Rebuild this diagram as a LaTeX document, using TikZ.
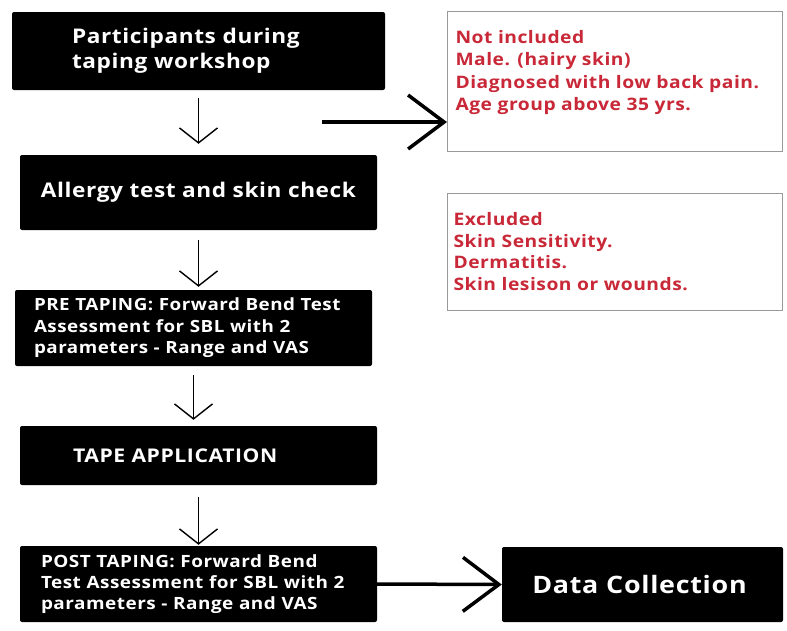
\documentclass[tikz,border=0pt]{standalone}
\usepackage{fontspec}
\setmainfont{Open Sans}
\newfontfamily\boxfont[FakeStretch=1.12,LetterSpace=3]{Open Sans}
\usetikzlibrary{arrows.meta}
\definecolor{exred}{RGB}{200,40,55}
\tikzset{
  blackbox/.style={rectangle, rounded corners=2pt, fill=black, text=white},
  notebox/.style={rectangle, draw=black!40, line width=1pt, anchor=north west, inner ysep=0pt, text=exred, font=\boxfont\bfseries\fontsize{17.2}{22.3}\selectfont},
  downarrow/.style={-{Straight Barb[length=15pt,width=38pt]}, line width=1.4pt},
  sidearrow/.style={-{Straight Barb[length=36pt,width=54pt]}, line width=3.5pt},
}
\begin{document}
\begin{tikzpicture}[x=1pt,y=-1pt]
    \useasboundingbox (0,0) rectangle (787,630);
    % main column
    \node[blackbox, minimum width=373pt, minimum height=78pt, text width=253pt, inner xsep=60pt, align=left, font=\boxfont\bfseries\fontsize{20.2}{25}\selectfont] (part) at (198.5,51) {Participants during\\taping workshop};
    \node[blackbox, minimum width=357pt, minimum height=75pt, font=\boxfont\bfseries\fontsize{20.2}{24}\selectfont] (allergy) at (198.5,192.5) {Allergy test and skin check};
    \node[blackbox, minimum width=357pt, minimum height=76pt, text width=319pt, inner xsep=19pt, align=left, font=\boxfont\bfseries\fontsize{16.8}{21.5}\selectfont] (pretape) at (193.5,328) {PRE TAPING: Forward Bend Test\\Assessment for SBL with 2\\parameters - Range and VAS};
    \node[blackbox, minimum width=357pt, minimum height=59pt, text width=251pt, inner xsep=53pt, align=left, font=\boxfont\bfseries\fontsize{18.9}{22}\selectfont] (tape) at (198.5,455.5) {TAPE APPLICATION};
    \node[blackbox, minimum width=357pt, minimum height=76pt, text width=315pt, inner xsep=21pt, align=left, font=\boxfont\bfseries\fontsize{16.9}{21}\selectfont] (posttape) at (198.5,584) {POST TAPING: Forward Bend\\Test Assessment for SBL with 2\\parameters - Range and VAS};
    \node[blackbox, minimum width=281pt, minimum height=75pt, font=\boxfont\bfseries\fontsize{24}{28}\selectfont] (data) at (642.5,584.5) {\hspace*{-6pt}Data Collection};
    % side notes
    \node[notebox, inner xsep=8pt] (notinc) at (447,11) {\parbox[c][140pt][t]{319pt}{\vspace*{19pt}Not included\\Male. (hairy skin)\\Diagnosed with low back pain.\\Age group above 35 yrs.}};
    \node[notebox, inner xsep=6pt] (excl) at (447,193) {\parbox[c][117pt][t]{323pt}{\vspace*{19pt}\fontsize{17.2}{21.7}\selectfont Excluded\\Skin Sensitivity.\\Dermatitis.\\Skin lesison or wounds.}};
    % arrows
    \coordinate (nstart) at (322,122);
    \draw[downarrow, shorten <=8pt, shorten >=11pt] (part.south) -- (part.south |- allergy.north);
    \draw[downarrow, shorten <=10pt, shorten >=3pt] (allergy.south) -- (allergy.south |- pretape.north);
    \draw[downarrow, shorten <=9pt, shorten >=6pt] (pretape.south) -- (pretape.south |- tape.north);
    \draw[downarrow, shorten <=12pt, shorten >=1pt] (tape.south) -- (tape.south |- posttape.north);
    \draw[sidearrow] (nstart) -- (nstart -| notinc.west);
    \draw[sidearrow] (posttape.east) -- (data.west);
\end{tikzpicture}
\end{document}
